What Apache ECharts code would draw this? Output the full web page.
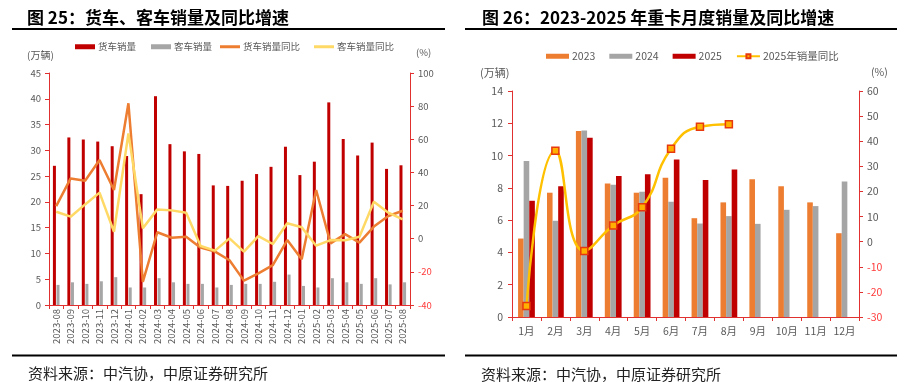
<!DOCTYPE html>
<html>
<head>
<meta charset="utf-8">
<script src="https://cdn.jsdelivr.net/npm/echarts@6/dist/echarts.min.js"></script>
<style>html,body{margin:0;padding:0;background:#fff;}#c{width:908px;height:382px;}</style>
</head>
<body>
<div id="c"></div>
<script>
// ---- Chart 25 data ----
const months25 = ['2023-08','2023-09','2023-10','2023-11','2023-12','2024-01','2024-02','2024-03','2024-04','2024-05','2024-06','2024-07','2024-08','2024-09','2024-10','2024-11','2024-12','2025-01','2025-02','2025-03','2025-04','2025-05','2025-06','2025-07','2025-08'];
const truckSales = [27.0,32.5,32.1,31.7,30.8,28.9,21.5,40.5,31.2,29.8,29.3,23.2,23.1,24.1,25.4,26.8,30.7,25.2,27.8,39.3,32.2,29.0,31.5,26.4,27.1];
const busSales   = [3.9,4.4,4.1,4.6,5.4,3.4,3.4,5.2,4.4,4.1,4.1,3.4,3.9,4.1,4.1,4.5,5.9,3.7,3.4,5.2,4.4,4.1,5.2,4.0,4.4];
const truckYoY   = [19.7,36.4,35.0,47.5,29.4,81.7,-26.0,3.9,0.6,1.2,-5.4,-7.8,-13.0,-25.3,-20.9,-15.9,-0.8,-12.4,29.4,-2.8,2.8,-2.4,7.3,13.7,16.9];
const busYoY     = [16.3,13.3,20.7,27.8,4.2,63.6,6.3,17.7,17.1,15.7,-4.4,-7.2,0.2,-7.8,1.6,-3.2,9.3,6.9,-4.2,-0.8,-1.0,1.2,22.3,15.7,11.7];
const leftTicks25 = {min:0, max:45, interval:5};
const rightTicks25 = {min:-40, max:100, interval:20};

// ---- Chart 26 data ----
const months26 = ['1月','2月','3月','4月','5月','6月','7月','8月','9月','10月','11月','12月'];
const heavy2023 = [4.86,7.70,11.52,8.27,7.70,8.63,6.12,7.10,8.54,8.10,7.10,5.19];
const heavy2024 = [9.66,5.96,11.56,8.20,7.76,7.14,5.79,6.25,5.77,6.64,6.87,8.40];
const heavy2025 = [7.20,8.10,11.10,8.73,8.85,9.76,8.48,9.14,null,null,null,null];
const heavyYoY2025 = [-25.6,36.2,-3.7,6.4,13.7,37.0,45.8,46.8,null,null,null,null];
const leftTicks26 = {min:0, max:14, interval:2};
const rightTicks26 = {min:-30, max:60, interval:10};

const FONT = "'Noto Sans CJK SC', 'Noto Sans', sans-serif";
const AXIS_RED = '#E0302F';
const LABEL_GRAY = '#595959';

function negFmt(v){ return v < 0 ? '{neg|' + v + '}' : String(v); }

const chart = echarts.init(document.getElementById('c'), null, {renderer:'canvas'});
const option = {
  backgroundColor: '#fff',
  animation: false,
  textStyle: {fontFamily: FONT},
  title: [
    {text:'图 25：货车、客车销量及同比增速', left:22, top:4, textStyle:{fontSize:17, fontWeight:'bold', color:'#000', fontFamily:FONT}},
    {text:'图 26：2023-2025 年重卡月度销量及同比增速', left:477, top:4, textStyle:{fontSize:17, fontWeight:'bold', color:'#000', fontFamily:FONT}},
    {text:'资料来源：中汽协，中原证券研究所', left:23, top:361, textStyle:{fontSize:15, fontWeight:'normal', color:'#222', fontFamily:FONT}},
    {text:'资料来源：中汽协，中原证券研究所', left:476, top:362, textStyle:{fontSize:15, fontWeight:'normal', color:'#222', fontFamily:FONT}},
    {text:'(万辆)', left:22, top:45, textStyle:{fontSize:10, fontWeight:'normal', color:LABEL_GRAY}},
    {text:'(%)', left:411, top:43, textStyle:{fontSize:9.5, fontWeight:'normal', color:LABEL_GRAY}},
    {text:'(万辆)', left:475, top:62, textStyle:{fontSize:11, fontWeight:'normal', color:LABEL_GRAY}},
    {text:'(%)', left:866, top:62, textStyle:{fontSize:10.5, fontWeight:'normal', color:LABEL_GRAY}}
  ],
  graphic: [
    {type:'line', shape:{x1:12, y1:29, x2:445, y2:29}, style:{stroke:'#000', lineWidth:2}},
    {type:'line', shape:{x1:465, y1:29, x2:897, y2:29}, style:{stroke:'#000', lineWidth:2}},
    {type:'line', shape:{x1:12, y1:355.5, x2:445, y2:355.5}, style:{stroke:'#000', lineWidth:2}},
    {type:'line', shape:{x1:465, y1:355.5, x2:897, y2:355.5}, style:{stroke:'#000', lineWidth:2}}
  ],
  legend: [
    {
      left:70, top:37, itemWidth:20, itemHeight:5, itemGap:15,
      textStyle:{fontSize:9.5, color:LABEL_GRAY, padding:[0,0,0,-2]},
      data:[
        {name:'货车销量', icon:'rect'},
        {name:'客车销量', icon:'rect'}
      ]
    },
    {
      left:215, top:37, itemWidth:20, itemHeight:3, itemGap:14,
      textStyle:{fontSize:9.5, color:LABEL_GRAY, padding:[0,0,0,-2]},
      data:[
        {name:'货车销量同比', icon:'rect'},
        {name:'客车销量同比', icon:'rect'}
      ]
    },
    {
      left:541, top:46, itemWidth:23, itemHeight:5, itemGap:14,
      textStyle:{fontSize:10.5, color:LABEL_GRAY, padding:[0,0,0,-2]},
      data:[
        {name:'2023', icon:'rect'},
        {name:'2024', icon:'rect'},
        {name:'2025', icon:'rect'},
        {name:'2025年销量同比'}
      ]
    }
  ],
  grid: [
    {left:49, right:498, top:73, bottom:77, containLabel:false},
    {left:512, right:49, top:91, bottom:65, containLabel:false}
  ],
  xAxis: [
    {
      type:'category', gridIndex:0, data:months25, boundaryGap:true,
      axisLine:{lineStyle:{color:AXIS_RED, width:1}},
      axisTick:{show:true, alignWithLabel:false, length:4, lineStyle:{color:AXIS_RED}},
      axisLabel:{rotate:90, fontSize:9.5, color:LABEL_GRAY, margin:4, interval:0}
    },
    {
      type:'category', gridIndex:1, data:months26, boundaryGap:true,
      axisLine:{lineStyle:{color:AXIS_RED, width:1}},
      axisTick:{show:true, alignWithLabel:false, length:4, lineStyle:{color:AXIS_RED}},
      axisLabel:{fontSize:10.5, color:LABEL_GRAY, margin:9, interval:0}
    }
  ],
  yAxis: [
    {
      type:'value', gridIndex:0, position:'left', min:leftTicks25.min, max:leftTicks25.max, interval:leftTicks25.interval,
      axisLine:{show:true, lineStyle:{color:AXIS_RED}},
      axisTick:{show:true, length:4, lineStyle:{color:AXIS_RED}},
      axisLabel:{fontSize:9.5, color:LABEL_GRAY, margin:8},
      splitLine:{show:false}
    },
    {
      type:'value', gridIndex:0, position:'right', min:rightTicks25.min, max:rightTicks25.max, interval:rightTicks25.interval,
      axisLine:{show:true, lineStyle:{color:AXIS_RED}},
      axisTick:{show:true, length:4, lineStyle:{color:AXIS_RED}},
      axisLabel:{fontSize:9.5, color:LABEL_GRAY, margin:8, formatter:negFmt, rich:{neg:{color:'#FF3B3B', fontSize:9.5}}},
      splitLine:{show:false}
    },
    {
      type:'value', gridIndex:1, position:'left', min:leftTicks26.min, max:leftTicks26.max, interval:leftTicks26.interval,
      axisLine:{show:true, lineStyle:{color:AXIS_RED}},
      axisTick:{show:true, length:4, lineStyle:{color:AXIS_RED}},
      axisLabel:{fontSize:10.5, color:LABEL_GRAY, margin:9},
      splitLine:{show:false}
    },
    {
      type:'value', gridIndex:1, position:'right', min:rightTicks26.min, max:rightTicks26.max, interval:rightTicks26.interval,
      axisLine:{show:true, lineStyle:{color:AXIS_RED}},
      axisTick:{show:true, length:4, lineStyle:{color:AXIS_RED}},
      axisLabel:{fontSize:10.5, color:LABEL_GRAY, margin:8, formatter:negFmt, rich:{neg:{color:'#FF3B3B', fontSize:10.5}}},
      splitLine:{show:false}
    }
  ],
  series: [
    {name:'货车销量', type:'bar', xAxisIndex:0, yAxisIndex:0, data:truckSales, barWidth:3, barGap:'20%',
     itemStyle:{color:'#C00000'}},
    {name:'客车销量', type:'bar', xAxisIndex:0, yAxisIndex:0, data:busSales, barWidth:3, barGap:'20%',
     itemStyle:{color:'#A6A6A6'}},
    {name:'货车销量同比', type:'line', xAxisIndex:0, yAxisIndex:1, data:truckYoY, symbol:'none',
     lineStyle:{color:'#ED7D31', width:2.5}, itemStyle:{color:'#ED7D31'}},
    {name:'客车销量同比', type:'line', xAxisIndex:0, yAxisIndex:1, data:busYoY, symbol:'none',
     lineStyle:{color:'#FFD966', width:2.5}, itemStyle:{color:'#FFD966'}},

    {name:'2023', type:'bar', xAxisIndex:1, yAxisIndex:2, data:heavy2023, barWidth:5.6, barGap:'0%',
     itemStyle:{color:'#ED7D31'}},
    {name:'2024', type:'bar', xAxisIndex:1, yAxisIndex:2, data:heavy2024, barWidth:5.6, barGap:'0%',
     itemStyle:{color:'#A5A5A5'}},
    {name:'2025', type:'bar', xAxisIndex:1, yAxisIndex:2, data:heavy2025, barWidth:5.6, barGap:'0%',
     itemStyle:{color:'#C00000'}},
    {name:'2025年销量同比', type:'line', xAxisIndex:1, yAxisIndex:3, data:heavyYoY2025, smooth:0.5,
     symbol:'rect', symbolSize:7, showSymbol:true,
     lineStyle:{color:'#FFC000', width:2.5},
     itemStyle:{color:'#FFB000', borderColor:'#E8380D', borderWidth:1.5}}
  ]
};
chart.setOption(option);
</script>
</body>
</html>
